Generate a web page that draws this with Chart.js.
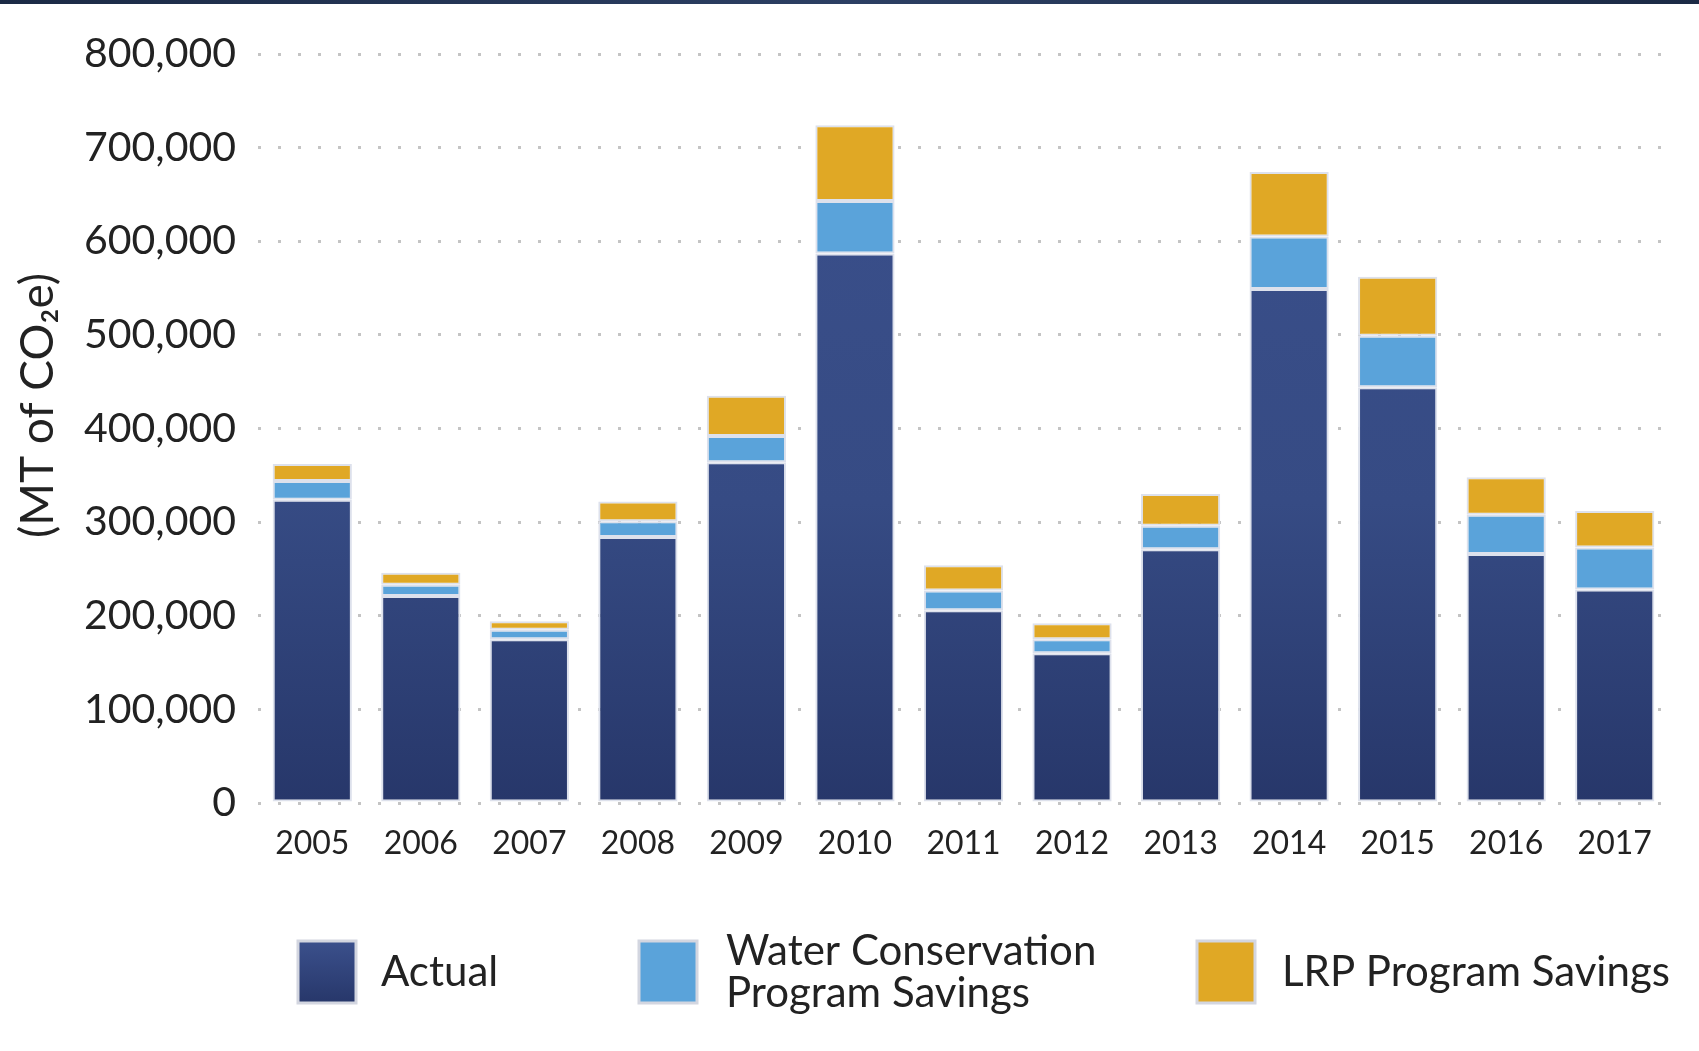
<!DOCTYPE html>
<html>
<head>
<meta charset="utf-8">
<script src="https://cdn.jsdelivr.net/npm/chart.js@4.4.1/dist/chart.umd.min.js"></script>
<style>
  html, body { margin: 0; padding: 0; background: #fff; }
  #wrap { position: relative; width: 1699px; height: 1051px; }
  #topbar { position: absolute; left: 0; top: 0; width: 100%; height: 4px;
            background: linear-gradient(90deg, #1b2a45, #2c3f63 50%, #1b2a45); }
</style>
</head>
<body>
<div id="wrap">
  <canvas id="chart" width="1699" height="1051"></canvas>
  <div id="topbar"></div>
</div>
<script>
// --- DATA ---
const years = ['2005', '2006', '2007', '2008', '2009', '2010', '2011', '2012', '2013', '2014', '2015', '2016', '2017'];
const actual = [324000, 221000, 175000, 284000, 364000, 587000, 206000, 160000, 271000, 549000, 444000, 266000, 228000];
const waterSavings = [20000, 12000, 10000, 17000, 28000, 56000, 21000, 15000, 25000, 56000, 55000, 42000, 45000];
const lrpSavings = [18000, 13000, 9000, 21000, 43000, 81000, 27000, 17000, 34000, 69000, 63000, 40000, 39000];
const yTicks = [0, 100000, 200000, 300000, 400000, 500000, 600000, 700000, 800000];
const seriesNames = [['Actual'], ['Water Conservation', 'Program Savings'], ['LRP Program Savings']];

const FONT = 'Lato, "Noto Sans", "DejaVu Sans", sans-serif';

function actualFill(ctx) {
    const area = ctx.chart.chartArea;
    if (!area) return '#34487f';
    const g = ctx.chart.ctx.createLinearGradient(0, area.top, 0, area.bottom);
    g.addColorStop(0, '#3b508c');
    g.addColorStop(0.6, '#364b84');
    g.addColorStop(1, '#27376a');
    return g;
}

// legend drawn on the canvas (multi-line label for the middle entry)
const legendPlugin = {
    id: 'bottomLegend',
    afterDraw(chart) {
        const c = chart.ctx;
        const items = [
            { box: 298, text: 381 },
            { box: 639, text: 726 },
            { box: 1197, text: 1282 }
        ];
        const cy = 972;
        c.save();
        items.forEach((it, i) => {
            const ds = chart.data.datasets[i];
            let fill = ds.legendColor;
            if (i === 0) {
                const g = c.createLinearGradient(0, cy - 31, 0, cy + 31);
                g.addColorStop(0, '#3b508c');
                g.addColorStop(1, '#27376a');
                fill = g;
            }
            c.fillStyle = fill;
            c.fillRect(it.box, cy - 31, 58, 62);
            c.strokeStyle = '#d3d6e0';
            c.lineWidth = 3;
            c.strokeRect(it.box, cy - 31, 58, 62);

            c.fillStyle = '#222';
            c.font = '42px ' + FONT;
            c.textBaseline = 'middle';
            c.textAlign = 'left';
            const lines = seriesNames[i];
            const lh = 42;
            lines.forEach((ln, k) => {
                const y = cy + (k - (lines.length - 1) / 2) * lh;
                c.fillText(ln, it.text, y);
            });
        });
        c.restore();
    }
};

const chart = new Chart(document.getElementById('chart'), {
    type: 'bar',
    data: {
        labels: years,
        datasets: [
            { label: 'Actual', data: actual, backgroundColor: actualFill, legendColor: '#34487f' },
            { label: 'Water Conservation Program Savings', data: waterSavings, backgroundColor: '#5aa3da', legendColor: '#5aa3da' },
            { label: 'LRP Program Savings', data: lrpSavings, backgroundColor: '#e0a825', legendColor: '#e0a825' }
        ].map(d => Object.assign(d, {
            borderColor: '#dde1ec',
            borderWidth: 2,
            borderSkipped: false,
            categoryPercentage: 1.0,
            barPercentage: 0.73
        }))
    },
    options: {
        responsive: false,
        animation: false,
        layout: { padding: { top: 54, right: 30, left: 0, bottom: 0 } },
        plugins: {
            legend: { display: false },
            tooltip: { enabled: false }
        },
        scales: {
            x: {
                stacked: true,
                grid: { display: false },
                border: { display: false },
                ticks: { color: '#222', font: { family: FONT, size: 32 }, padding: 13, maxRotation: 0 },
                afterFit(scale) { scale.height = 248; }
            },
            y: {
                stacked: true,
                min: 0,
                max: 800000,
                afterBuildTicks(scale) { scale.ticks = yTicks.map(v => ({ value: v })); },
                grid: {
                    drawTicks: false,
                    color: '#c4c4c4',
                    lineWidth: 3
                },
                border: { display: false, dash: [3, 17] },
                ticks: {
                    color: '#222',
                    font: { family: FONT, size: 41 },
                    padding: 22,
                    callback: v => v.toLocaleString('en-US')
                },
                title: {
                    display: true,
                    text: '\u2002\u2002(MT of CO\u2082e)',
                    color: '#222',
                    font: { family: FONT, size: 46 },
                    padding: { top: 11, bottom: 0 }
                },
                afterFit(scale) { scale.width = 258; }
            }
        }
    },
    plugins: [legendPlugin]
});
</script>
</body>
</html>
